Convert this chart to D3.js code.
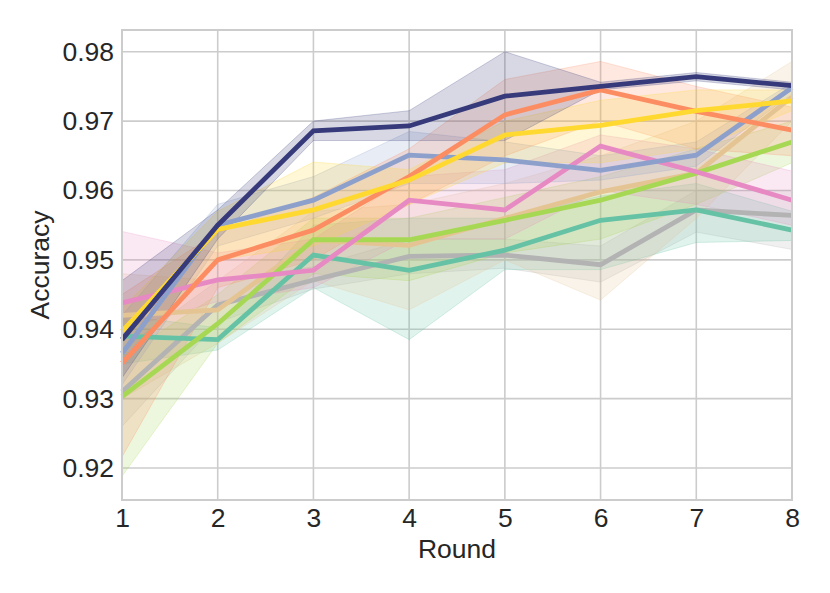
<!DOCTYPE html>
<html lang="en">
<head>
<meta charset="UTF-8">
<title>Accuracy per round</title>
<script src="https://cdnjs.cloudflare.com/ajax/libs/d3/7.8.5/d3.min.js"></script>
<style>
	body { margin: 0; background: #fff; }
	text { font-family: "Liberation Sans", Arial, sans-serif; fill: #262626; }
	.grid line { stroke: #cccccc; stroke-width: 1.6; }
</style>
</head>
<body>
<div id="container"></div>
<script>
	// rounds on the x axis
	var rounds = [1, 2, 3, 4, 5, 6, 7, 8];
	var yTicks = [0.92, 0.93, 0.94, 0.95, 0.96, 0.97, 0.98];

	// mean accuracy per series, with lower / upper band
	var grayMean = [0.9310, 0.9435, 0.9471, 0.9505, 0.9507, 0.9493, 0.9572, 0.9564];
	var grayLo   = [0.9260, 0.9410, 0.9458, 0.9480, 0.9488, 0.9468, 0.9540, 0.9515];
	var grayHi   = [0.9370, 0.9470, 0.9490, 0.9530, 0.9530, 0.9520, 0.9600, 0.9600];

	var tealMean = [0.9390, 0.9385, 0.9507, 0.9485, 0.9514, 0.9557, 0.9572, 0.9543];
	var tealLo   = [0.9350, 0.9370, 0.9460, 0.9385, 0.9486, 0.9486, 0.9525, 0.9528];
	var tealHi   = [0.9420, 0.9402, 0.9550, 0.9560, 0.9560, 0.9592, 0.9610, 0.9570];

	var tanMean  = [0.9420, 0.9428, 0.9528, 0.9521, 0.9560, 0.9598, 0.9625, 0.9735];
	var tanLo    = [0.9300, 0.9380, 0.9470, 0.9428, 0.9500, 0.9442, 0.9560, 0.9700];
	var tanHi    = [0.9480, 0.9470, 0.9570, 0.9580, 0.9610, 0.9650, 0.9700, 0.9786];

	var greenMean = [0.9303, 0.9408, 0.9529, 0.9529, 0.9557, 0.9586, 0.9625, 0.9670];
	var greenLo   = [0.9188, 0.9380, 0.9480, 0.9470, 0.9510, 0.9530, 0.9580, 0.9640];
	var greenHi   = [0.9360, 0.9450, 0.9560, 0.9560, 0.9590, 0.9620, 0.9660, 0.9700];

	var pinkMean = [0.9438, 0.9471, 0.9485, 0.9586, 0.9572, 0.9664, 0.9627, 0.9586];
	var pinkLo   = [0.9400, 0.9440, 0.9460, 0.9530, 0.9530, 0.9600, 0.9580, 0.9550];
	var pinkHi   = [0.9541, 0.9510, 0.9530, 0.9620, 0.9630, 0.9680, 0.9660, 0.9628];

	var blueMean = [0.9365, 0.9550, 0.9586, 0.9651, 0.9644, 0.9629, 0.9651, 0.9748];
	var blueLo   = [0.9320, 0.9520, 0.9560, 0.9610, 0.9610, 0.9615, 0.9635, 0.9740];
	var blueHi   = [0.9420, 0.9580, 0.9620, 0.9685, 0.9670, 0.9650, 0.9670, 0.9755];

	var orangeMean = [0.9351, 0.9500, 0.9543, 0.9620, 0.9709, 0.9745, 0.9714, 0.9687];
	var orangeLo   = [0.9216, 0.9460, 0.9500, 0.9580, 0.9650, 0.9700, 0.9660, 0.9650];
	var orangeHi   = [0.9450, 0.9540, 0.9590, 0.9660, 0.9760, 0.9786, 0.9750, 0.9720];

	var yellowMean = [0.9397, 0.9544, 0.9572, 0.9615, 0.9680, 0.9694, 0.9715, 0.9729];
	var yellowLo   = [0.9360, 0.9500, 0.9520, 0.9580, 0.9640, 0.9640, 0.9660, 0.9715];
	var yellowHi   = [0.9430, 0.9570, 0.9641, 0.9630, 0.9700, 0.9730, 0.9745, 0.9745];

	var navyMean = [0.9385, 0.9550, 0.9686, 0.9693, 0.9736, 0.9750, 0.9764, 0.9751];
	var navyLo   = [0.9330, 0.9530, 0.9672, 0.9672, 0.9672, 0.9745, 0.9758, 0.9745];
	var navyHi   = [0.9470, 0.9572, 0.9700, 0.9715, 0.9800, 0.9756, 0.9770, 0.9756];

	// draw order, bottom to top
	var series = [
		{ color: "#b3b3b3", mean: grayMean,   lo: grayLo,   hi: grayHi },
		{ color: "#66c2a5", mean: tealMean,   lo: tealLo,   hi: tealHi },
		{ color: "#e5c494", mean: tanMean,    lo: tanLo,    hi: tanHi },
		{ color: "#a6d854", mean: greenMean,  lo: greenLo,  hi: greenHi },
		{ color: "#e78ac3", mean: pinkMean,   lo: pinkLo,   hi: pinkHi },
		{ color: "#8da0cb", mean: blueMean,   lo: blueLo,   hi: blueHi },
		{ color: "#fc8d62", mean: orangeMean, lo: orangeLo, hi: orangeHi },
		{ color: "#ffd92f", mean: yellowMean, lo: yellowLo, hi: yellowHi },
		{ color: "#363a7a", mean: navyMean,   lo: navyLo,   hi: navyHi }
	];

	var width = 830, height = 593;
	var margin = { top: 30, right: 38, bottom: 93, left: 122 };
	var w = width - margin.left - margin.right;
	var h = height - margin.top - margin.bottom;

	var svg = d3.select("#container").append("svg")
			.attr("width", width)
			.attr("height", height);

	var g = svg.append("g")
			.attr("transform", "translate(" + margin.left + "," + margin.top + ")");

	var x = d3.scaleLinear().domain([1, 8]).range([0, w]);
	var y = d3.scaleLinear().domain([0.91539, 0.98313]).range([h, 0]);

	// grid
	var grid = g.append("g").attr("class", "grid");
	grid.selectAll(".vx").data(rounds).enter().append("line")
		.attr("x1", function(d){ return x(d); })
		.attr("x2", function(d){ return x(d); })
		.attr("y1", 0).attr("y2", h);
	grid.selectAll(".hy").data(yTicks).enter().append("line")
		.attr("x1", 0).attr("x2", w)
		.attr("y1", function(d){ return y(d); })
		.attr("y2", function(d){ return y(d); });

	var area = d3.area()
		.x(function(d){ return x(d.r); })
		.y0(function(d){ return y(d.lo); })
		.y1(function(d){ return y(d.hi); });

	var line = d3.line()
		.x(function(d){ return x(d.r); })
		.y(function(d){ return y(d.m); });

	function pts(s) {
		return rounds.map(function(r, i){
			return { r: r, m: s.mean[i], lo: s.lo[i], hi: s.hi[i] };
		});
	}

	var plot = g.append("g");
	series.forEach(function(s){
		plot.append("path")
			.attr("d", area(pts(s)))
			.attr("fill", s.color)
			.attr("fill-opacity", 0.2)
			.attr("stroke", s.color)
			.attr("stroke-opacity", 0.25)
			.attr("stroke-width", 1);
	});
	series.forEach(function(s){
		plot.append("path")
			.attr("d", line(pts(s)))
			.attr("fill", "none")
			.attr("stroke", s.color)
			.attr("stroke-width", 4.8)
			.attr("stroke-linejoin", "miter");
	});

	// frame
	g.append("rect")
		.attr("width", w).attr("height", h)
		.attr("fill", "none")
		.attr("stroke", "#cccccc")
		.attr("stroke-width", 2);

	// ticks
	var xAxis = d3.axisBottom(x).tickValues(rounds).tickSize(0).tickPadding(8)
		.tickFormat(d3.format("d"));
	var yAxis = d3.axisLeft(y).tickValues(yTicks).tickSize(0).tickPadding(8)
		.tickFormat(d3.format(".2f"));

	var gx = g.append("g").attr("transform", "translate(0," + h + ")").call(xAxis);
	var gy = g.append("g").call(yAxis);
	[gx, gy].forEach(function(a){
		a.select(".domain").remove();
		a.selectAll("text").style("font-size", "26.5px").attr("fill", "#262626");
	});

	svg.append("text")
		.attr("x", margin.left + w / 2)
		.attr("y", 558)
		.attr("text-anchor", "middle")
		.style("font-size", "26.5px")
		.text("Round");

	svg.append("text")
		.attr("transform", "translate(49," + (margin.top + h / 2) + ") rotate(-90)")
		.attr("text-anchor", "middle")
		.style("font-size", "26.5px")
		.text("Accuracy");
</script>
</body>
</html>
